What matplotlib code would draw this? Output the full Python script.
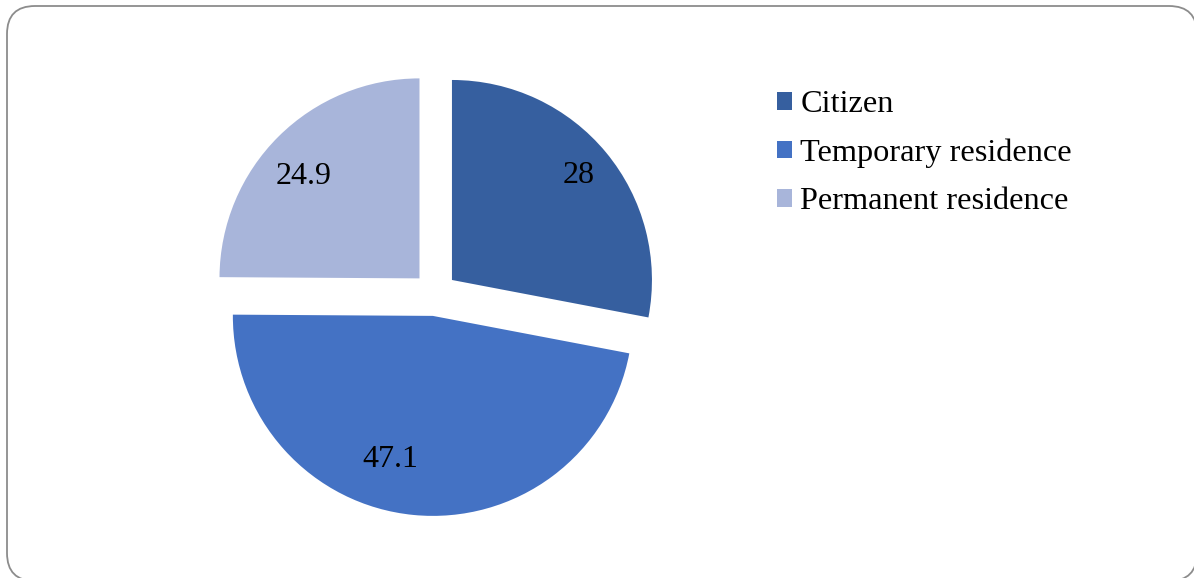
import numpy as np
import matplotlib
matplotlib.use("Agg")
import matplotlib.pyplot as plt
from matplotlib.patches import FancyBboxPatch, Patch

categories = ["Citizen", "Temporary residence", "Permanent residence"]
values = [28, 47.1, 24.9]
colors = ["#365F9F", "#4472C4", "#A8B5DA"]

plt.rcParams["font.family"] = ["Liberation Serif", "DejaVu Serif"]

W, H = 1194, 578
fig = plt.figure(figsize=(W / 100, H / 100), dpi=100)

# rounded frame around the chart area, in pixel units
bg = fig.add_axes([0, 0, 1, 1])
bg.set_xlim(0, W)
bg.set_ylim(H, 0)
bg.axis("off")
bg.add_patch(FancyBboxPatch((7, 6), 1190, 575,
                            boxstyle="round,pad=0,rounding_size=28",
                            facecolor="white", edgecolor="#8c8c8c", lw=1.3))

# pie: centre at (435, 294) px, radius 200 px
cx, cy, r = 435, 294, 200
ax = fig.add_axes([(cx - 1.5 * r) / W, (H - cy - 1.5 * r) / H, 3 * r / W, 3 * r / H])
wedges, texts = ax.pie(values, colors=colors, startangle=90, counterclock=False,
                       explode=[0.11] * 3, labels=[f"{v:g}" for v in values],
                       labeldistance=0.78,
                       textprops=dict(fontsize=23, ha="center", va="center"))

# nudge data labels: (distance from wedge centre, angle shift in degrees)
label_place = [(0.82, 0), (0.75, -11), (0.77, 4)]
for w, t, (d, shift) in zip(wedges, texts, label_place):
    a = np.deg2rad((w.theta1 + w.theta2) / 2 + shift)
    x0, y0 = w.center
    t.set_position((x0 + d * np.cos(a), y0 + d * np.sin(a)))

ax.set_xlim(-1.5, 1.5)
ax.set_ylim(-1.5, 1.5)
ax.set_aspect("equal")
ax.axis("off")

handles = [Patch(facecolor=c, edgecolor="none") for c in colors]
fig.legend(handles, categories, loc="upper left", bbox_to_anchor=(748 / W, 1 - 61 / H),
           frameon=False, fontsize=23.3, handlelength=0.47, handleheight=0.47,
           handletextpad=0.25, labelspacing=0.6)

fig.savefig("out.png", dpi=100)
